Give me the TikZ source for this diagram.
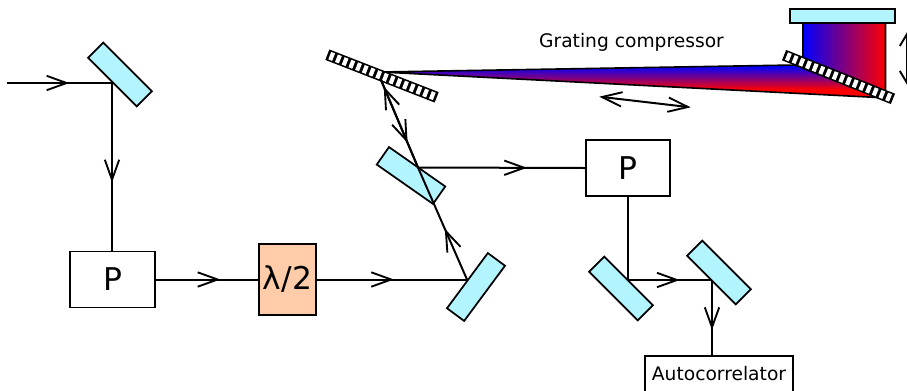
\documentclass[tikz,border=0pt]{standalone}
\usepackage{fontspec}
\setmainfont{DejaVu Sans}
\usetikzlibrary{decorations.markings,shadings}
\definecolor{mirrorc}{HTML}{B3F5FF}
\definecolor{peach}{HTML}{FFCCAA}
\pgfdeclarehorizontalshading{bluered}{100bp}{color(0bp)=(blue);color(25bp)=(blue);color(75bp)=(red);color(100bp)=(red)}
\pgfdeclarehorizontalshading{blueredfan}{100bp}{color(0bp)=(blue);color(26.5bp)=(blue);color(63bp)=(red);color(100bp)=(red)}
\newcommand{\vhead}[1]{\draw[line width=1.4pt,line join=miter] (-#1pt,5.4pt) -- (0pt,0pt) -- (-#1pt,-5.4pt);}
\tikzset{
  beam/.style={line width=1.5pt},
  midarrow/.style={postaction={decorate,decoration={markings,mark=at position #1 with {\vhead{15}}}}},
  ends/.style={postaction={decorate,decoration={markings,
     mark=at position 0 with {\begin{scope}[rotate=180]\vhead{#1}\end{scope}},
     mark=at position 0.999 with {\vhead{#1}}}}},
  box/.style={draw,line width=1.3pt,fill=white,font=\fontsize{23.5}{25}\selectfont},
  mirror/.style={draw,line width=1.3pt,fill=mirrorc,minimum width=51.5pt,minimum height=16pt,inner sep=0pt},
  grating/.style={draw,line width=1pt,fill=black,minimum width=87pt,minimum height=7.4pt,inner sep=0pt},
}
\newcommand{\stripes}[2]{\begin{scope}[shift={(#1)},rotate=#2]
  \foreach \i in {-7.5,-6.5,...,7.5}{\fill[white] (\i*5.4pt-1.55pt,-3pt) rectangle (\i*5.4pt+1.55pt,3pt);}
\end{scope}}
\begin{document}
\begin{tikzpicture}[x=0.75pt,y=-0.75pt]
\useasboundingbox (0,0) rectangle (907,390);
% fans
\path[shade,shading=blueredfan,shading angle=270,draw=black,line width=1.2pt] (381,72) -- (795,65) -- (878,97.5) -- cycle;
\path[shade,shading=bluered,draw=black,line width=1.2pt] (803,23) -- (885.5,23) -- (885.5,93) -- (803,60) -- cycle;
% optics
\node[mirror,rotate=-45] (m1) at (120,74.5) {};
\node[mirror,rotate=-35] (m2) at (411,175.5) {};
\node[mirror,rotate=53.5] (m3) at (476,287) {};
\node[mirror,rotate=-45] (m4) at (621,288.5) {};
\node[mirror,rotate=-45] (m5) at (719,272.5) {};
\node[draw,line width=1.3pt,fill=mirrorc,minimum width=79pt,minimum height=11pt,inner sep=0pt] (top) at (842.5,16) {};
\node[grating,rotate=-21.3] (g1) at (382,76) {};
\stripes{382,76}{-21.3}
\node[grating,rotate=-21.9] (g2) at (838.5,77) {};
\stripes{838.5,77}{-21.9}
% boxes
\node[box,minimum width=63.5pt,minimum height=42pt,inner sep=0pt] (p1) at (112.5,279.5) {P};
\node[box,minimum width=63.5pt,minimum height=42pt,inner sep=0pt] (p2) at (628,168) {P};
\node[box,fill=peach,minimum width=43pt,minimum height=53.5pt,inner sep=0pt] (hw) at (287.5,279.5) {λ/2};
\node[draw,line width=1.3pt,fill=white,minimum width=111pt,minimum height=27pt,inner sep=0pt,font=\fontsize{14}{16}\selectfont] (ac) at (719,374) {Autocorrelator};
\node[font=\fontsize{14}{16}\selectfont,inner sep=0pt] (gc) at (631.5,42) {Grating compressor};
% junctions
\coordinate (in) at (7,83);
\coordinate (j1) at (112,83);
\coordinate (j3) at (467,279.5);
\coordinate (j2) at (418,167.5);
\coordinate (j4) at (381,80);
\coordinate (j5) at (628,280);
\coordinate (j6) at (712,280);
\coordinate (d1a) at (602,97);
\coordinate (d1b) at (688,107);
\coordinate (d2a) at (907,34);
\coordinate (d2b) at (907,83);
% beams
\draw[beam,midarrow=0.568] (in) -- (j1);
\draw[beam,midarrow=0.577] (j1) -- (j1 |- p1.north);
\draw[beam,midarrow=0.606] (p1.east) -- (hw.west);
\draw[beam,midarrow=0.495] (hw.east) -- (j3);
\draw[beam,midarrow=0.43] (j3) -- (j2);
\draw[beam,midarrow=0.897] (j2) -- (j4);
\draw[beam,midarrow=0.69] (j4) -- (j2);
\draw[beam,midarrow=0.637] (j2) -- (p2.west);
\draw[beam] (p2.south) -- (j5);
\draw[beam,midarrow=0.583] (j5) -- (j6);
\draw[beam,midarrow=0.63] (j6) -- (j6 |- ac.north);
\draw[beam,ends=15] (d1a) -- (d1b);
\draw[beam,ends=9] (d2a) -- (d2b);
\end{tikzpicture}
\end{document}
